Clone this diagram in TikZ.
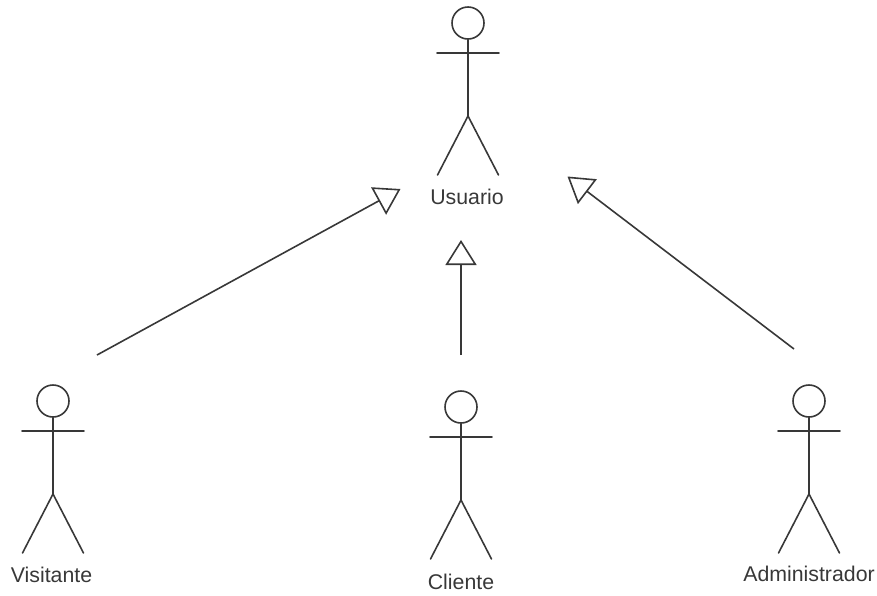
\documentclass[tikz,border=0pt]{standalone}
\usepackage{fontspec}
\setmainfont{Liberation Sans}
\usetikzlibrary{arrows.meta}
\definecolor{ink}{gray}{0.22}
\tikzset{
  figure/.style={draw=ink,line width=1.6pt,line cap=round},
  head/.style={circle,draw=ink,line width=1.6pt,minimum size=32pt,inner sep=0pt},
  label text/.style={text=ink,font=\fontsize{21.3}{23}\selectfont,inner sep=0pt,anchor=center},
  generalizes/.style={draw=ink,line width=1.6pt,-{Triangle[open,length=25pt,width=31pt,line width=1.6pt]}}
}
% #1 name, #2 head x, #3 head y, #4 label x, #5 label y, #6 text
\newcommand{\stickactor}[6]{%
  \node[head] (#1head) at (#2,#3) {};
  \coordinate (#1hip) at (#2,#3+93);
  \coordinate (#1armL) at (#2-31,#3+30);
  \coordinate (#1armR) at (#2+31,#3+30);
  \coordinate (#1legL) at (#2-30.5,#3+152);
  \coordinate (#1legR) at (#2+30.5,#3+152);
  \draw[figure] (#1head.south) -- (#1hip);
  \draw[figure] (#1armL) -- (#1armR);
  \draw[figure] (#1legL) -- (#1hip) -- (#1legR);
  \node[label text] (#1) at (#4,#5) {#6};
}
\begin{document}
\begin{tikzpicture}[x=1pt,y=-1pt]
\useasboundingbox (0,0) rectangle (877,595);
\stickactor{usuario}{468}{23}{467}{197}{Usuario}
\stickactor{visitante}{53}{401}{51.5}{575}{Visitante}
\stickactor{cliente}{461}{407}{461}{582}{Cliente}
\stickactor{admin}{809}{401}{809}{574}{Administrador}
\coordinate (vfrom) at (97,355);
\coordinate (vto) at (400.5,189);
\coordinate (cfrom) at (461,355);
\coordinate (cto) at (461,240);
\coordinate (afrom) at (794,349);
\coordinate (ato) at (567.5,176.5);
\draw[generalizes] (vfrom) -- (vto);
\draw[generalizes] (cfrom) -- (cto);
\draw[generalizes] (afrom) -- (ato);
\end{tikzpicture}
\end{document}
